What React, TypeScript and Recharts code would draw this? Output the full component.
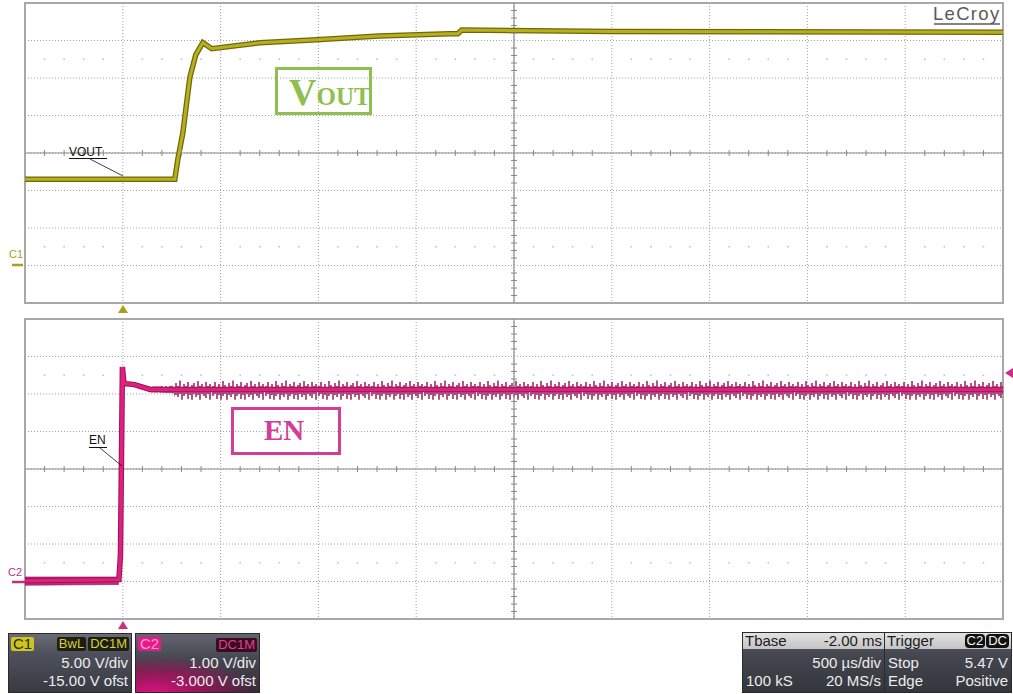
import React from 'react';
import {
  Area,
  CartesianGrid,
  ComposedChart,
  Line,
  ReferenceArea,
  ReferenceLine,
  Scatter,
  XAxis,
  YAxis,
} from 'recharts';

// 時間軸 (ms)。500 µs/div、Tbase -2.00 ms → トリガ位置は左から 1 div
const TIME_TICKS = [-0.5, 0, 0.5, 1, 1.5, 2, 2.5, 3, 3.5, 4, 4.5];
// C1: 5 V/div, -15 V ofst → 表示範囲 -5..35 V
const VOUT_TICKS = [-5, 0, 5, 10, 15, 20, 25, 30, 35];
// C2: 1 V/div, -3 V ofst → 表示範囲 -1..7 V
const EN_TICKS = [-1, 0, 1, 2, 3, 4, 5, 6, 7];

// VOUT 波形
const VOUT_TIME = [-0.5, 0.266, 0.281, 0.307, 0.343, 0.373, 0.409, 0.455, 0.7, 0.99, 1.31, 1.67, 1.713, 1.733, 2.5, 4.5];
const VOUT_VOLTS = [11.5, 11.5, 14.1, 17.7, 25.1, 28.1, 29.7, 28.9, 29.7, 30.1, 30.6, 30.9, 30.9, 31.4, 31.2, 31.1];

// EN 波形
const EN_TIME = [-0.5, -0.02, -0.012, -0.002, 0.006, 0.06, 0.14, 4.5];
const EN_VOLTS = [0.02, 0.05, 0.7, 5.72, 5.28, 5.25, 5.12, 5.12];

// EN のノイズ幅 (トリガ前 / トリガ後)
const EN_PRE_NOISE_TIME = [-0.5, -0.02];
const EN_PRE_NOISE_LOW = [-0.1, -0.08];
const EN_PRE_NOISE_HIGH = [0.12, 0.12];
const EN_NOISE_TIME = [0.14, 0.26, 0.27, 4.5];
const EN_NOISE_LOW = [5.05, 5.02, 4.85, 4.85];
const EN_NOISE_HIGH = [5.2, 5.22, 5.36, 5.36];

const voutData = VOUT_TIME.map((t, i) => ({ t, v: VOUT_VOLTS[i] }));
const enData = EN_TIME.map((t, i) => ({ t, v: EN_VOLTS[i] }));
const enPreNoise = EN_PRE_NOISE_TIME.map((t, i) => ({ t, range: [EN_PRE_NOISE_LOW[i], EN_PRE_NOISE_HIGH[i]] }));
const enNoise = EN_NOISE_TIME.map((t, i) => ({ t, range: [EN_NOISE_LOW[i], EN_NOISE_HIGH[i]] }));

// ノイズのスパイク模様 (チャート座標、x, y1, y2)
const SPIKES = [
  [1, 70, 80], [3, 66, 78], [5, 71, 83], [7, 68, 79], [9, 72, 86], [11, 65, 80], [13, 69, 78],
  [15, 71, 84], [17, 67, 79], [19, 70, 81], [21, 64, 78], [23, 72, 85], [25, 68, 80], [27, 70, 78],
  [29, 66, 83], [31, 71, 79], [33, 69, 86], [35, 67, 78], [37, 72, 81], [39, 65, 79], [41, 70, 84],
  [43, 68, 78], [45, 71, 80], [47, 66, 82], [49, 70, 78], [51, 68, 85],
];

const FONT = '"Liberation Sans", Arial, sans-serif';
const GRID = '#a2a2a2';

// 中心線上の細かい目盛り (1/5 div)
function subdivide(ticks: number[]) {
  const out: number[] = [];
  for (let i = 0; i < ticks.length - 1; i++) {
    const step = (ticks[i + 1] - ticks[i]) / 5;
    for (let k = 1; k < 5; k++) out.push(ticks[i] + step * k);
  }
  return out;
}

const HTick = (p: any) => <line x1={p.cx} x2={p.cx} y1={p.cy - 3} y2={p.cy + 3} stroke="#8a8a8a" strokeWidth={1} />;
const VTick = (p: any) => <line x1={p.cx - 3} x2={p.cx + 3} y1={p.cy} y2={p.cy} stroke="#8a8a8a" strokeWidth={1} />;
const Dot = (p: any) => <rect x={p.cx - 0.8} y={p.cy - 0.8} width={1.6} height={1.6} fill="#c4c4c4" />;

function ScopePanel({ yTicks, children }: { yTicks: number[]; children: React.ReactNode }) {
  const y0 = yTicks[0];
  const y1 = yTicks[yTicks.length - 1];
  const yc = yTicks[4];
  const div = yTicks[1] - yTicks[0];
  const minorT = subdivide(TIME_TICKS);
  const minorY = subdivide(yTicks);
  return (
    <ComposedChart width={1013} height={310} margin={{ top: 3, right: 10, bottom: 7, left: 25 }}>
      <XAxis type="number" dataKey="t" domain={[TIME_TICKS[0], TIME_TICKS[10]]} ticks={TIME_TICKS} hide allowDataOverflow />
      <YAxis type="number" dataKey="v" domain={[y0, y1]} ticks={yTicks} hide allowDataOverflow />
      <CartesianGrid stroke={GRID} strokeDasharray="1 2" />
      <ReferenceArea x1={TIME_TICKS[0]} x2={TIME_TICKS[10]} y1={y0} y2={y1} fill="#fff" fillOpacity={0} stroke="#a8a8a8" strokeWidth={2} />
      <ReferenceLine y={yc} stroke="#8c8c8c" strokeWidth={1.2} />
      <ReferenceLine x={2} stroke="#8c8c8c" strokeWidth={1.2} />
      <Scatter data={minorT.map((t) => ({ t, v: yc }))} shape={HTick} isAnimationActive={false} />
      <Scatter data={minorY.map((v) => ({ t: 2, v }))} shape={VTick} isAnimationActive={false} />
      <Scatter data={minorT.map((t) => ({ t, v: yc + 2.5 * div }))} shape={Dot} isAnimationActive={false} />
      <Scatter data={minorT.map((t) => ({ t, v: yc - 2.5 * div }))} shape={Dot} isAnimationActive={false} />
      {children}
    </ComposedChart>
  );
}

function Badge({ bg, color, children, style }: any) {
  return (
    <span
      style={{
        background: bg,
        color,
        padding: '0 2px',
        borderRadius: 2,
        lineHeight: '14px',
        height: 14,
        display: 'inline-block',
        ...style,
      }}
    >
      {children}
    </span>
  );
}

const row = (top: number): React.CSSProperties => ({
  position: 'absolute',
  left: 3,
  right: 3,
  top,
  display: 'flex',
  justifyContent: 'space-between',
  fontSize: 15,
  lineHeight: '16px',
  color: '#ececec',
});

export default function App() {
  return (
    <div style={{ position: 'absolute', left: 0, top: 0, width: 1013, height: 694, background: '#fff', overflow: 'hidden', fontFamily: FONT }}>
      <div style={{ position: 'absolute', left: 0, top: 0 }}>
        <ScopePanel yTicks={VOUT_TICKS}>
          <Line data={voutData} dataKey="v" stroke="#6f6a06" strokeWidth={5.5} dot={false} isAnimationActive={false} />
          <Line data={voutData} dataKey="v" stroke="#b7ae22" strokeWidth={3} dot={false} isAnimationActive={false} />
        </ScopePanel>
      </div>
      <div style={{ position: 'absolute', left: 0, top: 316 }}>
        <ScopePanel yTicks={EN_TICKS}>
          <defs>
            <pattern id="enSpikes" patternUnits="userSpaceOnUse" x={0} y={0} width={53} height={310}>
              {SPIKES.map(([x, a, b]) => (
                <line key={x} x1={x} x2={x} y1={a} y2={b} stroke="#8a0f4c" strokeWidth={1.4} />
              ))}
            </pattern>
          </defs>
          <Area data={enPreNoise} dataKey="range" stroke="#8e1050" strokeWidth={0.6} fill="#b81a68" fillOpacity={0.9} isAnimationActive={false} />
          <Area data={enNoise} dataKey="range" stroke="none" fill="url(#enSpikes)" fillOpacity={1} isAnimationActive={false} />
          <Line data={enData} dataKey="v" stroke="#9a1257" strokeWidth={5.5} dot={false} isAnimationActive={false} />
          <Line data={enData} dataKey="v" stroke="#e0207f" strokeWidth={3.5} dot={false} isAnimationActive={false} />
        </ScopePanel>
      </div>

      {/* 注記・マーカー */}
      <svg width={1013} height={694} style={{ position: 'absolute', left: 0, top: 0, pointerEvents: 'none' }}>
        <line x1={69} x2={107} y1={158.5} y2={158.5} stroke="#111" strokeWidth={1} />
        <line x1={90} x2={123} y1={159} y2={176} stroke="#111" strokeWidth={0.8} />
        <line x1={89} x2={107} y1={447.5} y2={447.5} stroke="#111" strokeWidth={1} />
        <line x1={100} x2={122} y1={448} y2={466} stroke="#111" strokeWidth={0.8} />
        <polygon points="123,305 118,313 128,313" fill="#a8a01a" />
        <polygon points="123,621 118,629 128,629" fill="#d42a86" />
        <polygon points="1005,373 1013,368 1013,378" fill="#d42a86" />
        <line x1={12} x2={23} y1={265} y2={265} stroke="#a8a01a" strokeWidth={2.5} />
        <line x1={12} x2={25} y1={582} y2={582} stroke="#c0307a" strokeWidth={2.5} />
        <line x1={934} x2={1000} y1={24} y2={24} stroke="#5a5a5a" strokeWidth={1.5} />
        <rect x={276.5} y={68.5} width={94} height={45} fill="none" stroke="#8fc04f" strokeWidth={3} />
        <rect x={232.5} y={408.5} width={107} height={45} fill="none" stroke="#d23d98" strokeWidth={3} />
      </svg>

      <div style={{ position: 'absolute', left: 69, top: 145, fontSize: 12, color: '#111' }}>VOUT</div>
      <div style={{ position: 'absolute', left: 89, top: 433, fontSize: 12, color: '#111' }}>EN</div>
      <div style={{ position: 'absolute', left: 9, top: 248, fontSize: 11, color: '#a8a01a' }}>C1</div>
      <div style={{ position: 'absolute', left: 8, top: 566, fontSize: 11, color: '#c0307a' }}>C2</div>
      <div style={{ position: 'absolute', left: 933, top: 3, fontSize: 18.5, color: '#5a5a5a', letterSpacing: 1.3 }}>LeCroy</div>

      <div style={{ position: 'absolute', left: 289, top: 70, color: '#8fc04f', fontFamily: '"Liberation Serif", "DejaVu Serif", serif', fontWeight: 'bold', whiteSpace: 'nowrap' }}>
        <span style={{ fontSize: 38 }}>V</span>
        <span style={{ fontSize: 25 }}>OUT</span>
      </div>
      <div style={{ position: 'absolute', left: 264, top: 414, color: '#d23d98', fontFamily: '"Liberation Serif", "DejaVu Serif", serif', fontWeight: 'bold', fontSize: 29 }}>
        EN
      </div>

      {/* ステータスバー */}
      <div style={{ position: 'absolute', left: 8, top: 633, width: 122, height: 58, border: '1px solid #2b2b2b', background: 'linear-gradient(#6a6d78 0%, #4d505a 35%, #383a42 100%)', fontSize: 14 }}>
        <div style={{ position: 'absolute', left: 2, top: 2 }}>
          <Badge bg="#cdc51e" color="#2a2a10" style={{ fontSize: 15 }}>C1</Badge>
        </div>
        <div style={{ position: 'absolute', right: 2, top: 3, display: 'flex', gap: 2, fontSize: 13 }}>
          <Badge bg="#1e1e12" color="#d6ce3e">BwL</Badge>
          <Badge bg="#1e1e12" color="#d6ce3e">DC1M</Badge>
        </div>
        <div style={{ ...row(21), justifyContent: 'flex-end' }}>5.00 V/div</div>
        <div style={{ ...row(39), justifyContent: 'flex-end' }}>-15.00 V ofst</div>
      </div>

      <div
        style={{
          position: 'absolute',
          left: 135,
          top: 633,
          width: 123,
          height: 58,
          border: '1px solid #2b2b2b',
          background:
            'radial-gradient(ellipse 90% 70% at 15% 100%, #d8127e 0%, rgba(170,16,95,0.75) 45%, rgba(0,0,0,0) 90%), linear-gradient(#62646f 0%, #44464f 45%, #3a2a38 100%)',
          fontSize: 14,
        }}
      >
        <div style={{ position: 'absolute', left: 2, top: 2 }}>
          <Badge bg="#e8198b" color="#f6a0d0" style={{ fontSize: 15 }}>C2</Badge>
        </div>
        <div style={{ position: 'absolute', right: 2, top: 3, fontSize: 13 }}>
          <Badge bg="#3a0c22" color="#e0408f">DC1M</Badge>
        </div>
        <div style={{ ...row(21), justifyContent: 'flex-end' }}>1.00 V/div</div>
        <div style={{ ...row(39), justifyContent: 'flex-end' }}>-3.000 V ofst</div>
      </div>

      <div style={{ position: 'absolute', left: 742, top: 632, width: 141, height: 59, border: '1px solid #2b2b2b', background: 'linear-gradient(#595c66 0%, #44464f 40%, #34363d 100%)' }}>
        <div style={{ ...row(0), left: 0, right: 0, top: 0, height: 16, padding: '0 2px', background: 'linear-gradient(#e2e2e2, #c4c4c4)', color: '#1c1c1c' }}>
          <span>Tbase</span>
          <span>-2.00 ms</span>
        </div>
        <div style={{ ...row(22), justifyContent: 'flex-end' }}>500 µs/div</div>
        <div style={{ ...row(40) }}>
          <span>100 kS</span>
          <span>20 MS/s</span>
        </div>
      </div>

      <div style={{ position: 'absolute', left: 884, top: 632, width: 126, height: 59, border: '1px solid #2b2b2b', background: 'linear-gradient(#595c66 0%, #44464f 40%, #34363d 100%)' }}>
        <div style={{ ...row(0), left: 0, right: 0, top: 0, height: 16, padding: '0 2px', background: 'linear-gradient(#e2e2e2, #c4c4c4)', color: '#1c1c1c' }}>
          <span>Trigger</span>
          <span style={{ display: 'flex', gap: 1, fontSize: 13, marginTop: 1 }}>
            <Badge bg="#111" color="#f4f4f4" style={{ borderRadius: 4 }}>C2</Badge>
            <Badge bg="#111" color="#f4f4f4" style={{ borderRadius: 4 }}>DC</Badge>
          </span>
        </div>
        <div style={{ ...row(22) }}>
          <span>Stop</span>
          <span>5.47 V</span>
        </div>
        <div style={{ ...row(40) }}>
          <span>Edge</span>
          <span>Positive</span>
        </div>
      </div>
    </div>
  );
}
